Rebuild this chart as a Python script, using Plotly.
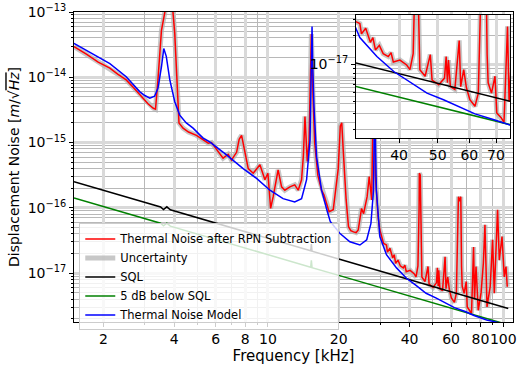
import plotly.graph_objects as go

# frequency axis in kHz, amplitude in m/sqrt(Hz)
freq_meas = [1.5, 1.7, 1.9, 2.13, 2.3, 2.5, 2.7, 2.9, 3.1, 3.26, 3.33, 3.41, 3.47, 3.53, 3.65, 3.7,
             3.85, 3.95, 4.02, 4.1, 4.19, 4.36, 4.6, 4.97, 5.3, 5.58, 5.76, 6.14, 6.45, 6.78, 7.0,
             7.36, 7.55, 7.73, 7.9, 8.25, 8.66, 9.0, 9.25, 9.71, 10.0, 10.27, 10.53, 11.05, 11.43,
             11.8, 12.4, 13.0, 13.45, 13.9, 14.15, 14.37, 14.55, 14.7, 14.95, 15.3, 15.55, 15.8,
             16.3, 16.9, 17.3, 17.8, 18.2, 18.95, 19.4, 19.9, 20.3, 20.6, 20.9, 21.5, 22.0, 22.5,
             23.1, 23.7, 24.2, 25.0, 25.5, 26.4, 26.95, 27.6, 28.1, 28.6, 29.4, 29.9, 31.0, 31.9,
             32.2, 33.0, 33.9, 34.4, 34.9, 35.7, 36.5, 37.6, 38.2, 38.7, 40.2, 41.8, 42.6, 43.4,
             43.9, 44.0, 44.4, 44.8, 45.1, 46.5, 47.9, 48.4, 50.3, 52.0, 52.5, 52.9, 53.2, 53.8,
             55.2, 56.6, 57.1, 58.1, 59.0, 60.2, 62.0, 63.2, 64.0, 64.5, 65.3, 66.0, 66.5, 66.9,
             68.2, 69.6, 70.3, 72.1, 73.3, 74.8, 75.5, 76.6, 78.3, 80.5, 82.3, 83.6, 85.3, 88.0,
             90.1, 91.6, 94.6, 96.2, 98.8, 101.0, 102.7, 104.0]
thermal_meas = [2.95e-14, 2.24e-14, 1.70e-14, 1.38e-14, 1.12e-14, 9.12e-15, 6.76e-15, 5.01e-15,
                3.89e-15, 3.35e-15, 3.24e-15, 9.12e-15, 2.51e-14, 5.25e-14, 1.0e-13, 1.41e-13,
                1.41e-13, 1.0e-13, 4.68e-14, 1.0e-14, 2.0e-15, 1.66e-15, 1.45e-15, 1.29e-15,
                1.12e-15, 9.77e-16, 1.0e-15, 7.24e-16, 5.75e-16, 6.61e-16, 5.37e-16, 7.08e-16,
                1.12e-15, 1.29e-15, 8.71e-16, 3.98e-16, 3.39e-16, 3.98e-16, 4.57e-16, 2.69e-16,
                3.39e-16, 9.77e-17, 1.48e-16, 3.80e-16, 2.09e-16, 1.86e-16, 2.09e-16, 2.24e-16,
                1.86e-16, 2.69e-16, 6.31e-16, 2.51e-15, 1.26e-15, 5.13e-16, 1.0e-15, 4.6e-14,
                5.01e-15, 1.0e-15, 3.16e-16, 1.86e-16, 1.58e-16, 1.17e-16, 8.71e-17, 9.33e-17,
                2.09e-16, 3.98e-16, 1.78e-15, 2.0e-15, 7.59e-16, 1.32e-16, 5.13e-17, 4.47e-17,
                4.27e-17, 4.17e-17, 4.57e-17, 9.77e-17, 8.13e-17, 1.48e-16, 3.02e-16, 1.32e-16,
                1.0e-14, 3.16e-16, 7.24e-17, 4.57e-17, 2.85e-17, 2.69e-17, 2.09e-17, 2.40e-17,
                1.70e-17, 1.91e-17, 1.41e-17, 1.58e-17, 1.29e-17, 1.20e-17, 1.32e-17, 1.05e-17,
                1.10e-17, 9.77e-18, 8.71e-18, 1.29e-17, 1.0e-16, 3.39e-16, 3.16e-16, 3.16e-17,
                8.71e-18, 7.41e-18, 1.26e-17, 6.76e-18, 6.03e-18, 7.08e-18, 1.20e-17, 6.31e-18,
                1.10e-17, 5.75e-18, 5.37e-18, 1.78e-17, 5.75e-18, 8.71e-18, 5.62e-18, 4.17e-18,
                3.55e-18, 4.90e-18, 5.01e-17, 1.48e-16, 1.26e-16, 1.48e-16, 1.26e-17, 6.31e-18,
                4.90e-18, 7.41e-18, 3.02e-18, 2.69e-18, 2.40e-18, 2.51e-17, 3.98e-18, 1.26e-17,
                2.69e-18, 5.01e-18, 1.41e-17, 5.50e-17, 3.02e-18, 6.17e-18, 3.24e-17, 4.90e-18,
                9.33e-17, 1.58e-17, 3.63e-17, 8.71e-18, 1.26e-17, 6.17e-18]

freq_model = [1.5, 1.8, 2.13, 2.5, 2.85, 3.0, 3.15, 3.3, 3.41, 3.53, 3.61, 3.7, 3.83, 4.02, 4.22,
              4.5, 4.81, 5.3, 5.66, 6.67, 7.36, 7.85, 8.95, 10.2, 11.6, 13.0, 13.9, 14.6, 15.1,
              15.3, 15.4, 15.5, 15.7, 16.1, 16.9, 17.8, 18.4, 20.2, 22.3, 24.6, 26.3, 27.4, 28.1,
              28.4, 28.9, 29.9, 31.9, 35.2, 38.8, 42.6, 47.0, 51.7, 56.8, 62.0, 68.9, 75.1, 85.0,
              100.0, 104.0]
thermal_model = [3.31e-14, 2.25e-14, 1.62e-14, 1.02e-14, 6.03e-15, 5.25e-15, 4.79e-15, 5.13e-15,
                 6.76e-15, 1.45e-14, 2.75e-14, 2.09e-14, 9.12e-15, 4.22e-15, 2.63e-15, 2.0e-15,
                 1.66e-15, 1.17e-15, 1.02e-15, 6.46e-16, 4.79e-16, 3.98e-16, 2.82e-16, 1.86e-16,
                 1.38e-16, 1.23e-16, 1.38e-16, 2.69e-16, 1.10e-15, 2.51e-14, 6.0e-14, 1.58e-14,
                 3.55e-15, 6.03e-16, 1.86e-16, 9.33e-17, 6.17e-17, 4.07e-17, 3.02e-17, 2.69e-17,
                 3.24e-17, 5.75e-17, 1.86e-16, 5.01e-15, 1.86e-16, 3.63e-17, 1.91e-17, 1.20e-17,
                 8.32e-18, 6.46e-18, 4.90e-18, 4.17e-18, 3.47e-18, 2.95e-18, 2.57e-18, 2.24e-18,
                 1.91e-18, 1.70e-18, 1.62e-18]

freq_sql = [1.5, 2.0, 3.0, 3.5, 3.6, 3.72, 3.85, 4.0, 6.0, 10.0, 15.0, 15.2, 15.3, 15.4, 20.0,
            30.0, 50.0, 80.0, 105.0]
sql = [2.51e-16, 1.855e-16, 1.21e-16, 1.03e-16, 9.42e-17, 1.035e-16, 9.31e-17, 8.94e-17,
       5.83e-17, 3.41e-17, 2.22e-17, 2.19e-17, 2.79e-17, 2.16e-17, 1.64e-17, 1.07e-17, 6.26e-18,
       3.81e-18, 2.86e-18]
sql_5db = [1.41e-16, 1.043e-16, 6.80e-17, 5.79e-17, 5.30e-17, 5.82e-17, 5.24e-17, 5.03e-17,
           3.28e-17, 1.92e-17, 1.25e-17, 1.23e-17, 1.57e-17, 1.21e-17, 9.22e-18, 6.02e-18,
           3.52e-18, 2.14e-18, 1.61e-18]

x_ticks = [2, 4, 6, 8, 10, 20, 40, 60, 80, 100]
x_minor = [3, 5, 7, 9, 30, 50, 70, 90]
y_ticks = [1e-17, 1e-16, 1e-15, 1e-14, 1e-13]
y_labels = ["10<sup>\u221217</sup>", "10<sup>\u221216</sup>", "10<sup>\u221215</sup>",
            "10<sup>\u221214</sup>", "10<sup>\u221213</sup>"]
y_minor = [m * 10.0 ** e for e in range(-18, -13) for m in range(2, 10)]
inset_x_ticks = [40, 50, 60, 70]

font = "DejaVu Sans"
fig = go.Figure()


def add_traces(xa, ya, legend):
    fig.add_trace(go.Scatter(x=freq_meas, y=thermal_meas, mode="lines", name="Uncertainty",
                             line=dict(color="rgba(175,175,175,0.7)", width=5),
                             xaxis=xa, yaxis=ya, showlegend=legend, legendrank=2))
    fig.add_trace(go.Scatter(x=freq_meas, y=thermal_meas, mode="lines",
                             name="Thermal Noise after RPN Subtraction",
                             line=dict(color="red", width=1.5),
                             xaxis=xa, yaxis=ya, showlegend=legend, legendrank=1))
    fig.add_trace(go.Scatter(x=freq_sql, y=sql, mode="lines", name="SQL",
                             line=dict(color="black", width=1.5),
                             xaxis=xa, yaxis=ya, showlegend=legend, legendrank=3))
    fig.add_trace(go.Scatter(x=freq_sql, y=sql_5db, mode="lines", name="5 dB below SQL",
                             line=dict(color="green", width=1.5),
                             xaxis=xa, yaxis=ya, showlegend=legend, legendrank=4))
    fig.add_trace(go.Scatter(x=freq_model, y=thermal_model, mode="lines",
                             name="Thermal Noise Model",
                             line=dict(color="blue", width=1.5),
                             xaxis=xa, yaxis=ya, showlegend=legend, legendrank=5))


add_traces("x", "y", True)
add_traces("x2", "y2", False)

axis_common = dict(type="log", showline=True, linecolor="black", linewidth=1, mirror=True,
                   ticks="outside", ticklen=4, tickcolor="black", zeroline=False,
                   automargin=False, tickangle=0,
                   showgrid=True, gridcolor="#d9d9d9", gridwidth=2.5)

fig.update_layout(
    width=523, height=365,
    margin=dict(l=74, r=10, t=12, b=43),
    paper_bgcolor="white", plot_bgcolor="white",
    font=dict(family=font, size=14, color="black"),
    xaxis=dict(axis_common, range=[0.1761, 2.0414], domain=[0, 1],
               tickvals=x_ticks, ticktext=[str(v) for v in x_ticks],
               minor=dict(tickvals=x_minor, ticks="outside", ticklen=2, showgrid=True,
                          gridcolor="#b8b8b8", gridwidth=1),
               title=dict(text="Frequency [kHz]", font=dict(size=15), standoff=0)),
    yaxis=dict(axis_common, range=[-17.75, -13], domain=[0, 1],
               tickvals=y_ticks, ticktext=y_labels,
               minor=dict(tickvals=y_minor, ticks="outside", ticklen=2, showgrid=True,
                          gridcolor="#b8b8b8", gridwidth=1),
               title=dict(text="Displacement Noise [<i>m</i>/\u221a<span style='text-decoration:overline'><i>Hz</i></span>]",
                          font=dict(size=14), standoff=4)),
    xaxis2=dict(axis_common, range=[1.4942, 1.8802], domain=[0.6424, 0.9932], anchor="y2",
                tickvals=inset_x_ticks, ticktext=[str(v) for v in inset_x_ticks],
                tickfont=dict(size=14)),
    yaxis2=dict(axis_common, range=[-17.787, -16.479], domain=[0.5935, 0.9903], anchor="x2",
                tickvals=[1e-17], ticktext=["10<sup>\u221217</sup>"], tickfont=dict(size=14),
                minor=dict(tickvals=y_minor, ticks="outside", ticklen=2, showgrid=True,
                           gridcolor="#b8b8b8", gridwidth=1)),
    legend=dict(x=0.012, y=0.318, xanchor="left", yanchor="top",
                bgcolor="rgba(255,255,255,0.8)", bordercolor="#cccccc", borderwidth=1,
                font=dict(size=11.5), tracegroupgap=0, itemwidth=30),
)

# drop the browser's default 8px body margin so the figure fills the window
fig.write_html("out.html", config={"displayModeBar": False},
               post_script="document.body.style.margin = '0';")
